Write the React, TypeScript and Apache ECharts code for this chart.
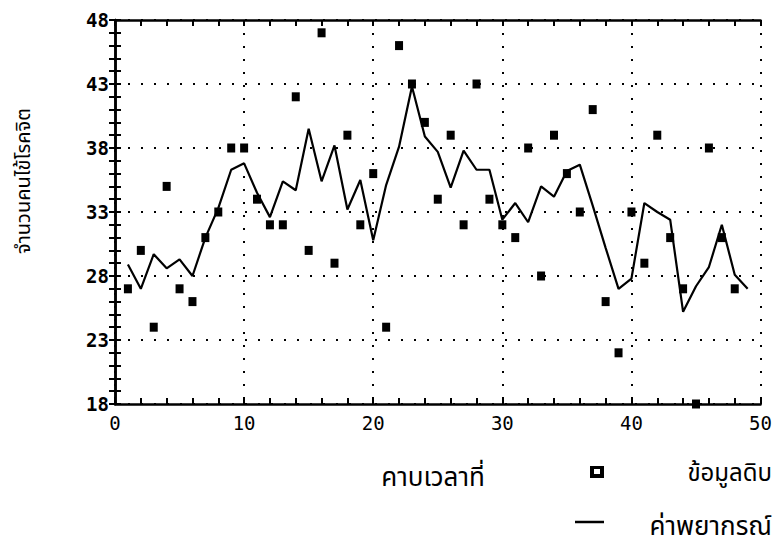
import React, { useEffect, useRef } from "react";
import * as echarts from "echarts";

const periods = [1,2,3,4,5,6,7,8,9,10,11,12,13,14,15,16,17,18,19,20,21,22,23,24,25,26,27,28,29,30,31,32,33,34,35,36,37,38,39,40,41,42,43,44,45,46,47,48];
const rawData = [27,30,24,35,27,26,31,33,38,38,34,32,32,42,30,47,29,39,32,36,24,46,43,40,34,39,32,43,34,32,31,38,28,39,36,33,41,26,22,33,29,39,31,27,18,38,31,27];
const forecastPeriods = [1,2,3,4,5,6,7,8,9,10,11,12,13,14,15,16,17,18,19,20,21,22,23,24,25,26,27,28,29,30,31,32,33,34,35,36,37,38,39,40,41,42,43,44,45,46,47,48,49];
const forecast = [28.9,27,29.7,28.6,29.3,28,31,33.3,36.3,36.8,34.5,32.6,35.4,34.7,39.5,35.4,38.2,33.2,35.5,30.8,35.1,38.1,42.8,38.9,37.7,34.9,37.8,36.3,36.3,32.4,33.7,32.2,35,34.2,36.2,36.7,33.5,30.2,27,27.8,33.7,33,32.4,25.2,27.2,28.7,32,28.1,27];
const xTicks = [0, 10, 20, 30, 40, 50];
const yTicks = [18, 23, 28, 33, 38, 43, 48];
const labels = {
  yTitle: "จำนวนคนไข้โรคจิต",
  xTitle: "คาบเวลาที่",
  raw: "ข้อมูลดิบ",
  forecast: "ค่าพยากรณ์",
};

const thaiFont = "'Noto Sans Thai', 'Noto Sans', 'DejaVu Sans', sans-serif";
const numFont = "'DejaVu Sans Mono', monospace";

export default function App() {
  const ref = useRef<HTMLDivElement>(null);
  useEffect(() => {
    if (!ref.current) return;
    const chart = echarts.init(ref.current, null, { renderer: "svg" });
    const axisCommon = {
      axisLine: { show: true, lineStyle: { color: "#000", width: 2.5 } },
      axisTick: { show: true, inside: true, length: 6, lineStyle: { color: "#000", width: 2 } },
      minorTick: { show: true, length: 6, lineStyle: { color: "#000", width: 2 } },
    };
    const xMin = xTicks[0], xMax = xTicks[xTicks.length - 1];
    const yMin = yTicks[0], yMax = yTicks[yTicks.length - 1];
    chart.setOption({
      animation: false,
      backgroundColor: "#fff",
      grid: { left: 115, right: 9, top: 20, bottom: 146 },
      xAxis: [
        {
          type: "value", min: xMin, max: xMax, interval: 10,
          ...axisCommon,
          minorTick: { ...axisCommon.minorTick, splitNumber: 5 },
          axisLabel: { color: "#000", fontFamily: numFont, fontSize: 19, margin: 9,
            formatter: (v: number) => (xTicks.includes(v) ? String(v) : "") },
          splitLine: { show: true, lineStyle: { color: "#000", width: 2, type: [2, 11] } },
        },
        {
          type: "value", position: "top", min: xMin, max: xMax, interval: 10,
          ...axisCommon,
          minorTick: { ...axisCommon.minorTick, splitNumber: 5 },
          axisLabel: { show: false },
          splitLine: { show: false },
        },
      ],
      yAxis: [
        {
          type: "value", min: yMin, max: yMax, interval: 5,
          ...axisCommon,
          minorTick: { ...axisCommon.minorTick, splitNumber: 5 },
          axisLabel: { color: "#000", fontFamily: numFont, fontWeight: "bold", fontSize: 19, margin: 6 },
          splitLine: { show: true, lineStyle: { color: "#000", width: 2, type: [2, 11] } },
        },
        {
          type: "value", position: "right", min: yMin, max: yMax, interval: 5,
          ...axisCommon,
          minorTick: { ...axisCommon.minorTick, splitNumber: 5 },
          axisLabel: { show: false },
          splitLine: { show: false },
        },
      ],
      series: [
        {
          name: labels.raw,
          type: "scatter",
          symbol: "rect",
          symbolSize: [8, 9],
          itemStyle: { color: "#000", opacity: 1 },
          data: periods.map((p, i) => [p, rawData[i]]),
          clip: false,
          z: 3,
        },
        {
          name: labels.forecast,
          type: "line",
          showSymbol: false,
          symbol: "none",
          lineStyle: { color: "#000", width: 2.2 },
          data: forecastPeriods.map((p, i) => [p, forecast[i]]),
          z: 2,
        },
      ],
      graphic: [
        {
          type: "text", x: 24, y: 181, rotation: Math.PI / 2,
          style: { text: labels.yTitle, fill: "#000", font: `20px ${thaiFont}`, align: "center", verticalAlign: "middle" },
        },
        {
          type: "text", x: 433, y: 478,
          style: { text: labels.xTitle, fill: "#000", font: `26px ${thaiFont}`, align: "center", verticalAlign: "middle" },
        },
        {
          type: "rect", shape: { x: 590, y: 466, width: 14, height: 12 },
          style: { fill: "#000" },
        },
        {
          type: "rect", shape: { x: 594, y: 469, width: 6, height: 5 },
          style: { fill: "#fff" },
        },
        {
          type: "text", x: 772, y: 474,
          style: { text: labels.raw, fill: "#000", font: `24px ${thaiFont}`, align: "right", verticalAlign: "middle" },
        },
        {
          type: "line", shape: { x1: 575, y1: 522, x2: 604, y2: 522 },
          style: { stroke: "#000", lineWidth: 2.5 },
        },
        {
          type: "text", x: 772, y: 527,
          style: { text: labels.forecast, fill: "#000", font: `26px ${thaiFont}`, align: "right", verticalAlign: "middle" },
        },
      ],
    });
    return () => chart.dispose();
  }, []);
  return <div ref={ref} style={{ position: "fixed", left: 0, top: 0, width: 775, height: 550 }} />;
}
